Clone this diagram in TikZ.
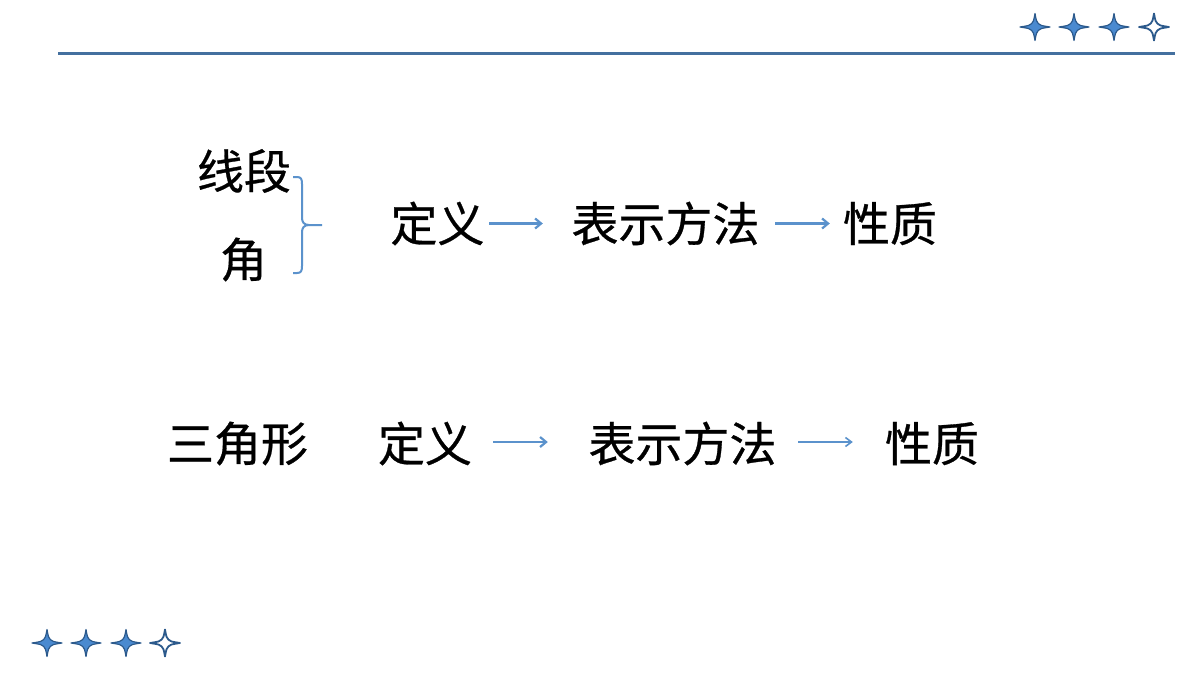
\documentclass[tikz,border=0pt]{standalone}
\usepackage{fontspec}
\setmainfont{Noto Sans CJK SC}[FakeBold=0.6]
\usetikzlibrary{arrows.meta}
\definecolor{linec}{HTML}{44709F}
\definecolor{starfill}{HTML}{4A8AD0}
\definecolor{stardraw}{HTML}{2C5A8C}
\definecolor{arrc}{HTML}{5B92CC}
\tikzset{
  star4/.pic={\path[pic actions] (0,-13.5) .. controls (1.5,-5.5) .. (3.4,-3.4) .. controls (5.5,-1.5) .. (15,0) .. controls (5.5,1.5) .. (3.4,3.4) .. controls (1.5,5.5) .. (0,13.5) .. controls (-1.5,5.5) .. (-3.4,3.4) .. controls (-5.5,1.5) .. (-15,0) .. controls (-5.5,-1.5) .. (-3.4,-3.4) .. controls (-1.5,-5.5) .. cycle;},
  fullstar/.style={fill=starfill,draw=stardraw,line width=1.2pt,line join=round},
  emptystar/.style={fill=white,draw=stardraw,line width=1.8pt,line join=round},
  txt/.style={inner sep=0pt,font=\fontsize{47}{56}\selectfont,text=black},
  arr/.style={draw=arrc,line width=2.2pt,-{Straight Barb[length=6pt,width=10pt]}},
  arrthin/.style={draw=arrc,line width=1.6pt,-{Straight Barb[length=6pt,width=9pt]}},
}
\begin{document}
\begin{tikzpicture}[x=1pt,y=-1pt]
\useasboundingbox[fill=white] (0,0) rectangle (1200,675);
% top line
\draw[linec,line width=3pt] (58,53) -- (1175,53);
% stars
\pic[fullstar] at (1035,27) {star4};
\pic[fullstar] at (1074,27) {star4};
\pic[fullstar] at (1114,27) {star4};
\pic[emptystar] at (1154,27) {star4};
\pic[fullstar] at (47,643) {star4};
\pic[fullstar] at (86,643) {star4};
\pic[fullstar] at (126,643) {star4};
\pic[emptystar] at (165,643) {star4};
% row 1
\node[txt] (xd) at (244,171) {线段};
\node[txt] (jiao) at (243.5,259.5) {角};
\draw[arrc,line width=2pt] (293,177) -- (297,177) .. controls (301,177) and (302,179) .. (302,184)
  -- (302,218) .. controls (302,222) and (304,225) .. (309,225) -- (322,225);
\draw[arrc,line width=2pt] (309,225) .. controls (304,225) and (302,228) .. (302,232)
  -- (302,266) .. controls (302,271) and (301,273) .. (297,273) -- (293,273);
\node[txt] (d1) at (437.5,223.5) {定义};
\node[txt] (b1) at (665.5,223.5) {表示方法};
\node[txt] (x1) at (890,223.5) {性质};
\draw[arr,shorten <=4.5pt,shorten >=28.5pt] (d1.east) -- (b1.west);
\draw[arr,shorten <=15.5pt,shorten >=13pt] (b1.east) -- (x1.west);
% row 2
\node[txt] (t2) at (237.5,443.5) {三角形};
\node[txt] (d2) at (425,443.5) {定义};
\node[txt] (b2) at (682.5,443.5) {表示方法};
\node[txt] (x2) at (932,443.5) {性质};
\draw[arr,shorten <=21pt,shorten >=40.5pt] ([yshift=1.5pt]d2.east) -- ([yshift=1.5pt]b2.west);
\draw[arrthin,shorten <=21.5pt,shorten >=32pt] ([yshift=1.5pt]b2.east) -- ([yshift=1.5pt]x2.west);
\end{tikzpicture}
\end{document}
